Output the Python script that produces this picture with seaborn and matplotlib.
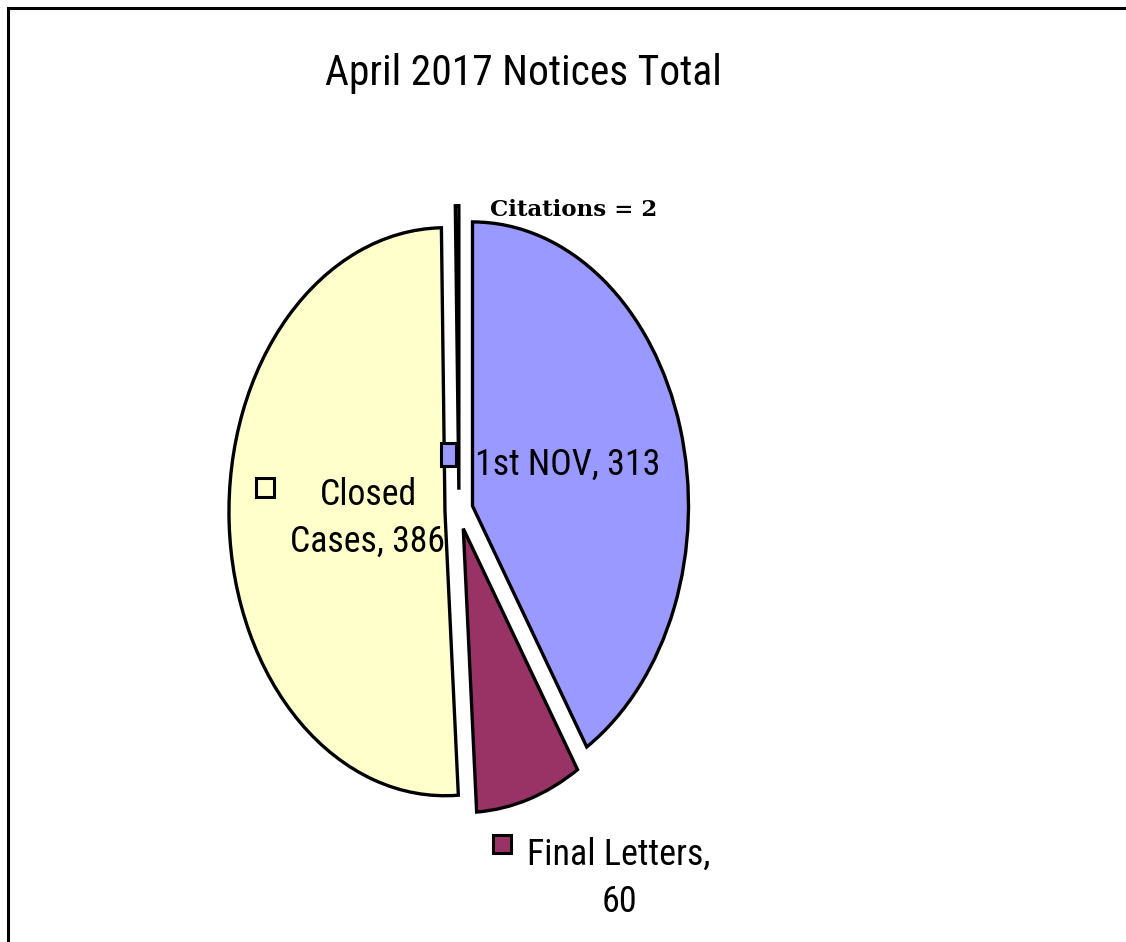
import numpy as np
import matplotlib
matplotlib.use("Agg")
import matplotlib.pyplot as plt
from matplotlib import font_manager
from matplotlib.patches import Rectangle
import seaborn as sns

# ------------------------------------------------------------------
# Chart data
# ------------------------------------------------------------------
TITLE = "April 2017 Notices Total"
categories = ["1st NOV", "Final Letters", "Closed Cases", "Citations"]
counts = [313, 60, 386, 2]
slice_colors = ["#9999FF", "#993366", "#FFFFCC", "#CCFFFF"]
explode = [0.065, 0.065, 0.065, 0.075]

W, H = 1126, 942
DPI = 100


def fx(x):
    return x / W


def fy(y):
    return 1 - y / H


# ------------------------------------------------------------------
# Find a narrow sans font if one is installed
# ------------------------------------------------------------------
def pickNarrowFont():
    entries = font_manager.fontManager.ttflist
    names = {f.name for f in entries}
    for cand in ["Liberation Sans Narrow", "Arial Narrow", "Roboto Condensed",
                 "Open Sans Condensed", "Noto Sans Condensed",
                 "DejaVu Sans Condensed"]:
        if cand in names:
            return cand, "normal"
    for f in entries:
        if f.stretch in ("condensed", "semi-condensed", "extra-condensed") \
                and f.style == "normal" and "Serif" not in f.name \
                and "Mono" not in f.name:
            return f.name, f.stretch
    return "Liberation Sans", "normal"


NARROW, STRETCH = pickNarrowFont()


# ------------------------------------------------------------------
# Draw the exploded, elliptical pie
# ------------------------------------------------------------------
def drawPie(fig):
    ax = fig.add_axes([0, 0, 1, 1])
    ax.pie(counts, explode=explode, colors=slice_colors, startangle=90,
           counterclock=False,
           wedgeprops=dict(edgecolor="black", linewidth=2.4))
    # stretch the circle into an ellipse: 1 unit = 216 px wide, 284 px tall
    cx, cy, rx, ry = 459, 511, 216, 284
    ax.set_aspect("auto")
    ax.set_xlim(-cx / rx, (W - cx) / rx)
    ax.set_ylim(-(H - cy) / ry, cy / ry)
    ax.axis("off")
    return ax


def marker(fig, x, y, w, h, color):
    fig.add_artist(Rectangle((fx(x - w / 2), fy(y + h / 2)), w / W, h / H,
                             transform=fig.transFigure, facecolor=color,
                             edgecolor="black", linewidth=2.2))


def drawLines(fig, x, baselines, lines, target_w, max_size, ha="center",
              **kw):
    """Draw text lines at given pixel baselines, shrunk to fit target width"""
    renderer = fig.canvas.get_renderer()
    widest = max(lines, key=len)
    probe = fig.text(0, 0, widest, fontsize=max_size, **kw)
    w = probe.get_window_extent(renderer).width
    probe.remove()
    size = max_size if w <= target_w else max_size * target_w / w
    for line, base in zip(lines, baselines):
        fig.text(fx(x), fy(base), line, ha=ha, va="baseline", fontsize=size,
                 **kw)


# ------------------------------------------------------------------
# Labels, markers and frame
# ------------------------------------------------------------------
def drawLabels(fig):
    sans = dict(family=[NARROW, "DejaVu Sans"], fontstretch=STRETCH,
                color="black")
    drawLines(fig, 523, [85], [TITLE], 397, 35, **sans)

    # 1st NOV
    marker(fig, 448.5, 454.5, 15, 23, slice_colors[0])
    drawLines(fig, 475, [475], [f"{categories[0]}, {counts[0]}"], 185, 30,
              ha="left", **sans)

    # Final Letters
    marker(fig, 502, 844, 18, 18, slice_colors[1])
    drawLines(fig, 619, [865, 912], [f"{categories[1]},", f"{counts[1]}"],
              184, 29, **sans)

    # Closed Cases
    marker(fig, 265, 487, 18, 19, slice_colors[2])
    first, second = categories[2].split(" ")
    drawLines(fig, 368, [505, 552], [first, f"{second}, {counts[2]}"],
              155, 29, **sans)

    # Citations
    drawLines(fig, 490, [216], [f"{categories[3]} = {counts[3]}"], 170, 16.5,
              ha="left", fontweight="bold", family=["DejaVu Serif"],
              color="black")

    # outer frame (runs off the right and bottom edges)
    fig.add_artist(Rectangle((fx(8), -0.05), 1.05, fy(8) + 0.05,
                             transform=fig.transFigure, fill=False,
                             edgecolor="black", linewidth=2.2))


def main():
    sns.set_style("white")
    fig = plt.figure(figsize=(W / DPI, H / DPI), dpi=DPI)
    fig.patch.set_facecolor("white")
    drawPie(fig)
    drawLabels(fig)
    fig.savefig("out.png", dpi=DPI)


if __name__ == "__main__":
    main()
